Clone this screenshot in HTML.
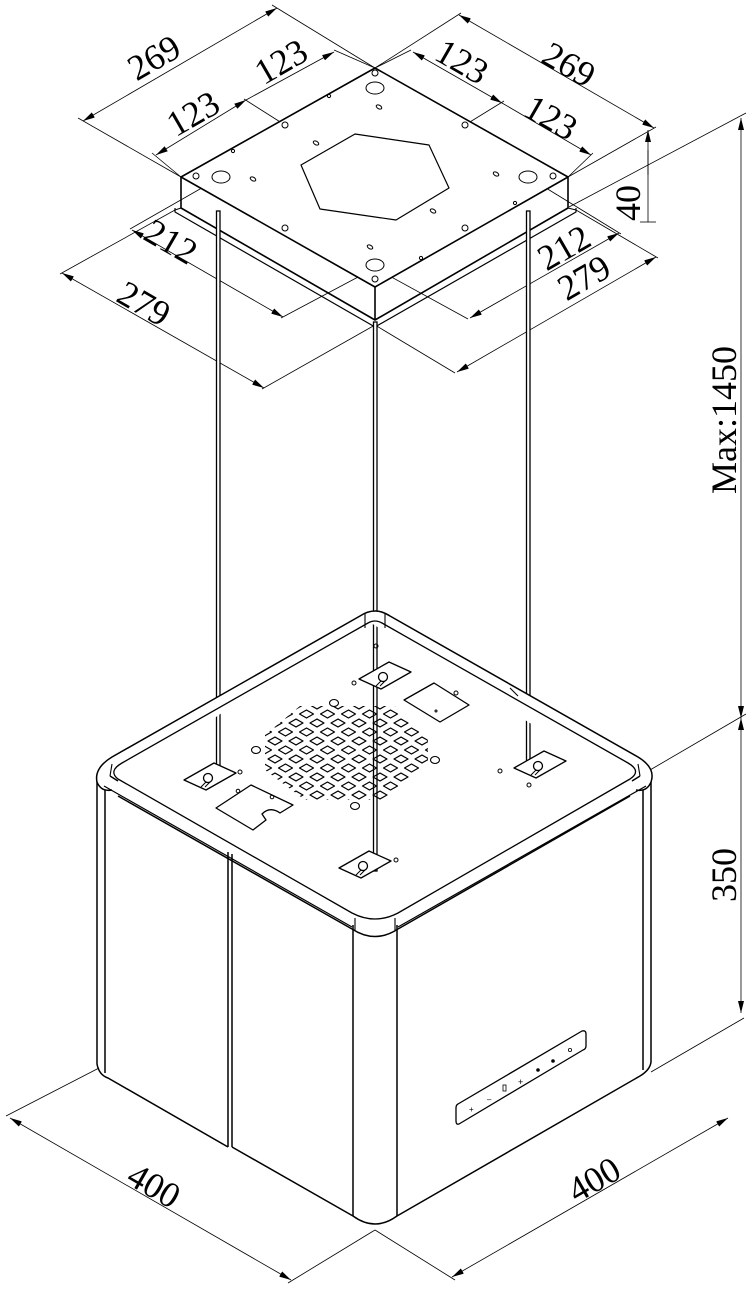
<!DOCTYPE html>
<html><head><meta charset="utf-8"><style>
html,body{margin:0;padding:0;background:#fff;}
svg{display:block;}
text{font-family:"Liberation Serif",serif;font-size:36px;fill:#000;}
</style></head><body>
<svg width="754" height="1290" viewBox="0 0 754 1290" xmlns="http://www.w3.org/2000/svg">
<defs>
<marker id="a" viewBox="0 0 12 6" refX="12" refY="3" markerWidth="12" markerHeight="6" markerUnits="userSpaceOnUse" orient="auto-start-reverse"><path d="M0,0 L12,3 L0,6 z" fill="#000"/></marker>
<pattern id="vent" width="21" height="18" patternUnits="userSpaceOnUse" x="2" y="3">
<g fill="none" stroke="#000" stroke-width="1.2" stroke-linejoin="round">
<path d="M0,-4 L7,0 L0,4 L-7,0z"/><path d="M21,-4 L28,0 L21,4 L14,0z"/>
<path d="M10.5,5 L17.5,9 L10.5,13 L3.5,9z"/>
<path d="M0,14 L7,18 L0,22 L-7,18z"/><path d="M21,14 L28,18 L21,22 L14,18z"/>
</g></pattern>
<clipPath id="vc"><polygon points="300,706 395,706 428,740 428,765 385,800 305,800 265,770 265,735"/></clipPath>
</defs>

<g fill="none" stroke="#000" stroke-width="0.8">
<line x1="181" y1="177" x2="78" y2="118"/><line x1="375" y1="68" x2="272" y2="5"/>
<line x1="83" y1="121" x2="277" y2="8" marker-start="url(#a)" marker-end="url(#a)"/>
<line x1="181" y1="177" x2="152" y2="153"/><line x1="285" y1="125" x2="244" y2="99"/><line x1="375" y1="68" x2="334" y2="50"/>
<line x1="156" y1="155" x2="246" y2="100" marker-start="url(#a)" marker-end="url(#a)"/>
<line x1="246" y1="100" x2="334" y2="52" marker-end="url(#a)"/>
<line x1="375" y1="68" x2="461" y2="13"/><line x1="568" y1="177" x2="656" y2="127"/>
<line x1="459" y1="15" x2="654" y2="128" marker-start="url(#a)" marker-end="url(#a)"/>
<line x1="375" y1="68" x2="411" y2="50"/><line x1="465" y1="125" x2="504" y2="101"/><line x1="568" y1="177" x2="593" y2="153"/>
<line x1="413" y1="52" x2="502" y2="103" marker-start="url(#a)" marker-end="url(#a)"/>
<line x1="502" y1="103" x2="591" y2="155" marker-end="url(#a)"/>
<line x1="648" y1="175" x2="648" y2="130" marker-end="url(#a)"/>
<line x1="648" y1="150" x2="648" y2="222"/>
<line x1="640" y1="222" x2="656" y2="222"/>
<line x1="221" y1="177" x2="130" y2="229"/><line x1="375" y1="268" x2="281" y2="318"/>
<line x1="132" y1="230" x2="283" y2="317" marker-start="url(#a)" marker-end="url(#a)"/>
<line x1="175" y1="210" x2="60" y2="274"/><line x1="375" y1="325" x2="262" y2="389"/>
<line x1="62" y1="273" x2="264" y2="388" marker-start="url(#a)" marker-end="url(#a)"/>
<line x1="528" y1="177" x2="621" y2="234"/><line x1="375" y1="268" x2="468" y2="319"/>
<line x1="470" y1="318" x2="619" y2="233" marker-start="url(#a)" marker-end="url(#a)"/>
<line x1="576" y1="210" x2="658" y2="258"/><line x1="375" y1="325" x2="455" y2="373"/>
<line x1="457" y1="372" x2="656" y2="257" marker-start="url(#a)" marker-end="url(#a)"/>
<line x1="569" y1="207" x2="746" y2="113"/>
<line x1="741" y1="118" x2="741" y2="718" marker-start="url(#a)" marker-end="url(#a)"/>
<line x1="650" y1="770" x2="746" y2="714"/>
<line x1="741" y1="718" x2="741" y2="1013" marker-start="url(#a)" marker-end="url(#a)"/>
<line x1="651" y1="1072" x2="744" y2="1018"/>
<line x1="99" y1="1068" x2="6" y2="1116"/><line x1="375" y1="1230" x2="288" y2="1283"/>
<line x1="10" y1="1118" x2="291" y2="1280" marker-start="url(#a)" marker-end="url(#a)"/>
<line x1="375" y1="1230" x2="455" y2="1280"/>
<line x1="452" y1="1277" x2="728" y2="1118" marker-start="url(#a)" marker-end="url(#a)"/>
</g>

<g fill="none" stroke="#000" stroke-width="1.6" stroke-linejoin="round">
<polygon points="375,68 568,177 375,287 181,177" fill="#fff"/>
<polyline points="181,177 181,208 375,320 568,208 568,177"/>
<line x1="375" y1="287" x2="375" y2="320"/>
<polyline points="175,208 175,212 375,327 576,212 576,208" stroke-width="1.2"/>
<line x1="181" y1="208" x2="175" y2="210" stroke-width="1"/><line x1="568" y1="208" x2="576" y2="210" stroke-width="1"/>
<polygon points="355,134 429,145 449,188 396,220 320,209 301,165" stroke-width="1.2"/>
</g>
<g fill="none" stroke="#000" stroke-width="1">
<ellipse cx="375" cy="88" rx="9" ry="6"/><ellipse cx="221" cy="177" rx="9" ry="6"/><ellipse cx="528" cy="177" rx="9" ry="6"/><ellipse cx="375" cy="265" rx="9" ry="6"/>
<circle cx="375" cy="73" r="3"/><circle cx="196" cy="176" r="3"/><circle cx="553" cy="176" r="3"/><circle cx="375" cy="279" r="3"/>
<circle cx="285" cy="125" r="3"/><circle cx="465" cy="125" r="3"/><circle cx="285" cy="228" r="3"/><circle cx="465" cy="228" r="3"/>
<ellipse cx="379" cy="107" rx="3" ry="1.8" transform="rotate(30 379 107)"/><ellipse cx="316" cy="143" rx="3" ry="1.8" transform="rotate(30 316 143)"/>
<ellipse cx="253" cy="179" rx="3" ry="1.8" transform="rotate(30 253 179)"/><ellipse cx="496" cy="174" rx="3" ry="1.8" transform="rotate(30 496 174)"/>
<ellipse cx="433" cy="211" rx="3" ry="1.8" transform="rotate(30 433 211)"/><ellipse cx="370" cy="247" rx="3" ry="1.8" transform="rotate(30 370 247)"/>
<circle cx="329" cy="96" r="1.6"/><circle cx="233" cy="151" r="1.6"/><circle cx="515" cy="203" r="1.6"/><circle cx="421" cy="258" r="1.6"/>
</g>

<g stroke="#000" stroke-width="1.3" fill="#fff">
<rect x="216.5" y="211" width="3.5" height="568"/>
<rect x="373.5" y="322" width="3.5" height="549"/>
<rect x="526.5" y="211" width="3.5" height="556"/>
</g>

<g fill="none" stroke="#000" stroke-width="1.5" stroke-linejoin="round">
<path d="M97,775 L97,1064 Q99,1075 108,1078 L228,1147"/>
<line x1="105" y1="782" x2="105" y2="1073"/>
<line x1="228" y1="852" x2="228" y2="1147"/>
<line x1="232" y1="854" x2="232" y2="1147"/>
<path d="M232,1147 L353,1216 Q375,1232 397,1216 L640,1076 Q650,1070 651,1062 L651,775"/>
<line x1="643" y1="782" x2="643" y2="1070"/>
<line x1="353" y1="925" x2="353" y2="1216"/>
<line x1="397" y1="925" x2="397" y2="1216"/>
<path d="M360,616 Q375,606 390,616 L638,757 Q656,768 651,782 Q647,792 636,790 M398,929 Q375,944 352,929 M112,790 Q101,792 97,782 Q94,768 112,757 L360,616" fill="#fff"/>
<path d="M398,929 L630,796 M352,929 L118,796"/>
<path d="M368,623 L122,763 Q108,771 118,779 L352,913 Q375,925 398,913 L630,779 Q642,771 628,763 L382,623 Q375,619 368,623" stroke-width="1.3"/>
<path d="M110,776 L118,781 M640,776 L632,781" />
<line x1="104" y1="786" x2="352" y2="927" stroke-width="1.2"/>
<line x1="398" y1="927" x2="646" y2="786" stroke-width="1.2"/>
<line x1="365" y1="614" x2="365" y2="628" stroke-width="1.1"/><line x1="385" y1="614" x2="385" y2="628" stroke-width="1.1"/>
<line x1="355" y1="918" x2="355" y2="930" stroke-width="1.1"/><line x1="395" y1="918" x2="395" y2="930" stroke-width="1.1"/>
<line x1="112" y1="764" x2="110" y2="776" stroke-width="1.1"/><line x1="638" y1="764" x2="640" y2="776" stroke-width="1.1"/>
<line x1="510" y1="688" x2="518" y2="696" stroke-width="1.1"/>
</g>

<rect x="260" y="700" width="175" height="105" fill="url(#vent)" clip-path="url(#vc)"/>
<g fill="none" stroke="#000" stroke-width="1.1">
<ellipse cx="334" cy="703" rx="4.5" ry="3.5"/><ellipse cx="256" cy="750" rx="4.5" ry="3.5"/>
<ellipse cx="435" cy="760" rx="4.5" ry="3.5"/><ellipse cx="355" cy="806" rx="4.5" ry="3.5"/>
</g>

<g fill="#fff" stroke="#000" stroke-width="1.3" stroke-linejoin="round">
<g transform="translate(210,777)"><polygon points="-26,3 4,-14 26,-4 -4,13"/><circle cx="-2" cy="1" r="4.5" fill="none"/><path d="M-4,5 L-9,10 M0,5 L-5,10" fill="none" stroke-width="1"/></g>
<g transform="translate(385,676)"><polygon points="-26,3 4,-14 26,-4 -4,13"/><circle cx="-2" cy="1" r="4.5" fill="none"/><path d="M-4,5 L-9,10 M0,5 L-5,10" fill="none" stroke-width="1"/></g>
<g transform="translate(540,765)"><polygon points="-26,3 4,-14 26,-4 -4,13"/><circle cx="-2" cy="1" r="4.5" fill="none"/><path d="M-4,5 L-9,10 M0,5 L-5,10" fill="none" stroke-width="1"/></g>
<g transform="translate(365,865)"><polygon points="-26,3 4,-14 26,-4 -4,13"/><circle cx="-2" cy="1" r="4.5" fill="none"/><path d="M-4,5 L-9,10 M0,5 L-5,10" fill="none" stroke-width="1"/></g>
<polygon points="404,700 434,683 469,705 440,722"/>
<path d="M216,808 L251,785 L293,805 L280,813 Q270,806 262,814 L266,820 L253,830 Z"/>
</g>
<g fill="none" stroke="#000" stroke-width="1">
<circle cx="240" cy="772" r="2"/><circle cx="354" cy="683" r="2"/><circle cx="456" cy="693" r="2"/>
<circle cx="500" cy="771" r="2"/><circle cx="396" cy="860" r="2"/><circle cx="376" cy="646" r="2"/><circle cx="529" cy="785" r="2"/>
<circle cx="238" cy="791" r="1.8"/><circle cx="272" cy="797" r="1.8"/><circle cx="436" cy="711" r="1"/>
</g>

<g fill="none" stroke="#000" stroke-width="1.3" stroke-linejoin="round">
<path d="M458,1104 L582,1031 Q586,1030 586,1034 L586,1046 Q586,1049 583,1050 L459,1124 Q456,1125 456,1121 L456,1108 Q456,1105 458,1104 Z"/>
</g>
<g fill="#000">
<text x="469" y="1112" style="font-size:8px;font-family:'Liberation Sans',sans-serif">+</text>
<text x="487" y="1102" style="font-size:8px;font-family:'Liberation Sans',sans-serif">–</text>
<rect x="503" y="1085" width="3" height="6" fill="none" stroke="#000" stroke-width="0.8"/>
<text x="518" y="1085" style="font-size:9px;font-family:'Liberation Sans',sans-serif">+</text>
<circle cx="538" cy="1070" r="1.8"/><circle cx="553" cy="1061" r="1.8"/>
<circle cx="570" cy="1050" r="1.6" fill="none" stroke="#000" stroke-width="0.8"/>
</g>

<text transform="translate(160,68) rotate(-30)" text-anchor="middle">269</text>
<text transform="translate(287,72) rotate(-30)" text-anchor="middle">123</text>
<text transform="translate(199,124) rotate(-30)" text-anchor="middle">123</text>
<text transform="translate(456,72) rotate(30)" text-anchor="middle">123</text>
<text transform="translate(563,75) rotate(30)" text-anchor="middle">269</text>
<text transform="translate(545,128) rotate(30)" text-anchor="middle">123</text>
<text transform="translate(640,203) rotate(-90)" text-anchor="middle">40</text>
<text transform="translate(165,252) rotate(30)" text-anchor="middle">212</text>
<text transform="translate(138,314) rotate(30)" text-anchor="middle">279</text>
<text transform="translate(570,258) rotate(-30)" text-anchor="middle">212</text>
<text transform="translate(590,288) rotate(-30)" text-anchor="middle">279</text>
<text transform="translate(736,420) rotate(-90)" text-anchor="middle">Max:1450</text>
<text transform="translate(736,875) rotate(-90)" text-anchor="middle">350</text>
<text transform="translate(148,1196) rotate(30)" text-anchor="middle">400</text>
<text transform="translate(600,1190) rotate(-30)" text-anchor="middle">400</text>
</svg>
</body></html>
